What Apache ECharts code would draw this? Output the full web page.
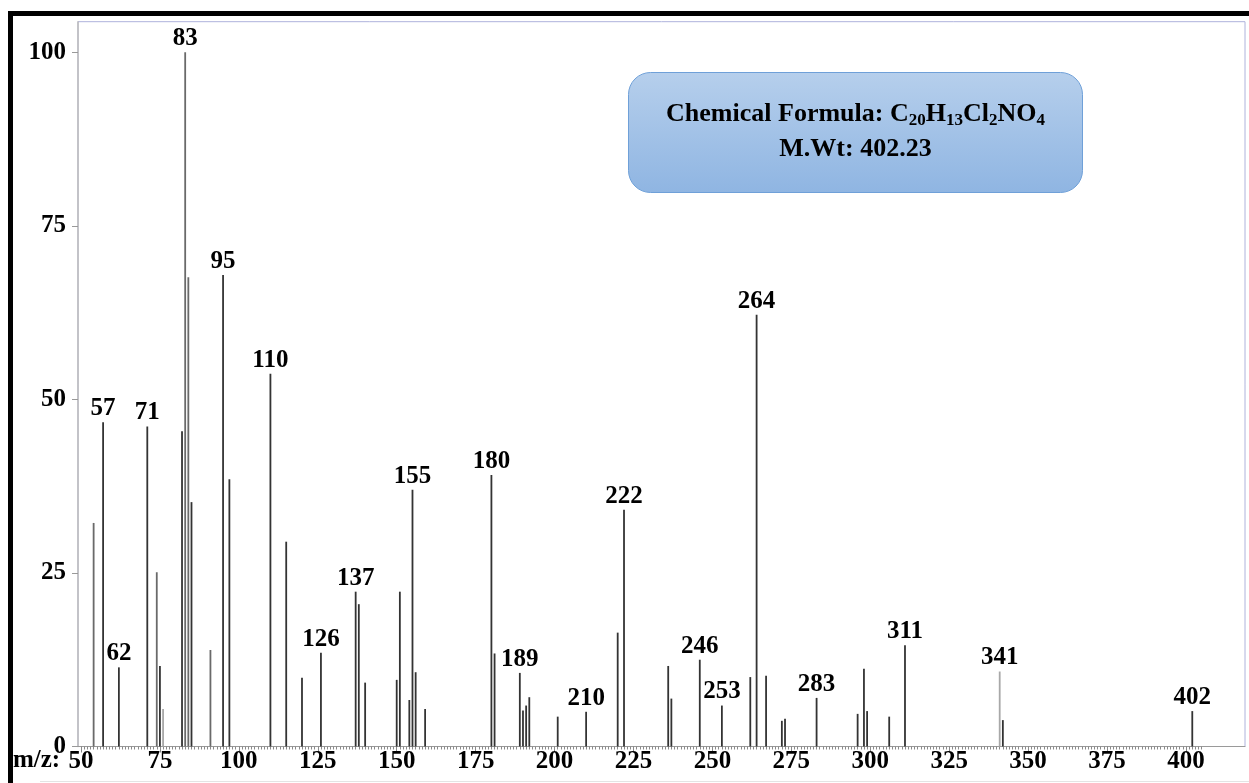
<!DOCTYPE html>
<html><head><meta charset="utf-8">
<script src="https://cdn.jsdelivr.net/npm/echarts@6/dist/echarts.min.js"></script>
<style>html,body{margin:0;padding:0;background:#fff}#c{width:1249px;height:783px}</style>
</head><body><div id="c"></div>
<script>
// m/z values of the peaks
const mz = [54,57,62,71,74,75,76,82,83,84,85,91,95,97,110,115,120,126,137,138,140,150,151,154,155,156,159,180,181,189,190,191,192,201,210,220,222,236,237,246,253,262,264,267,272,273,283,296,298,299,306,311,341,342,402];
// relative intensities (%)
const intensity = [32.2,46.7,11.4,46.1,25.1,11.6,5.4,45.4,100,67.6,35.2,13.9,67.9,38.5,53.7,29.5,9.9,13.5,22.3,20.5,9.2,9.6,22.3,6.7,37.0,10.7,5.4,39.1,13.4,10.6,5.2,5.9,7.1,4.3,5.0,16.4,34.1,11.6,6.9,12.5,5.9,10.0,62.2,10.2,3.7,4.0,7.0,4.7,11.2,5.1,4.3,14.6,10.8,3.8,5.1];
// peaks carrying an m/z label
const labelledPeaks = [57,62,71,83,95,110,126,137,155,180,189,210,222,246,253,264,283,311,341,402];
// axis tick labels
const xTickLabels = [50,75,100,125,150,175,200,225,250,275,300,325,350,375,400];
const yTickLabels = [0,25,50,75,100];
const xAxisName = 'm/z:';
const formulaLine = ['Chemical Formula: C','20','H','13','Cl','2','NO','4'];
const weightLine = 'M.Wt: 402.23';

const lightPeaks = [76, 341];
const midPeaks = [54, 74, 83, 84, 91];
const minorTicks = [];
for (let v = 50; v <= 405; v++) minorTicks.push(v);

const SERIF = "'Liberation Serif','Times New Roman',serif";
const chart = echarts.init(document.getElementById('c'));

const peakData = mz.map((m, i) => [m, intensity[i]]);

let formulaRich = '';
formulaLine.forEach((t, i) => { formulaRich += (i % 2 === 0 ? '{b|' : '{s|') + t + '}'; });

chart.setOption({
  animation: false,
  grid: { left: 78, right: 4, top: 21.7, bottom: 36.5, show: true, borderColor: '#aeb2dc', borderWidth: 1, containLabel: false },
  xAxis: [{
    type: 'value', min: 49.05, max: 418.7,
    axisLine: { onZero: false, lineStyle: { color: '#9a9a9a', width: 1 } },
    axisTick: { customValues: xTickLabels, length: 6, lineStyle: { color: '#888' } },
    axisLabel: { customValues: xTickLabels, margin: 3, color: '#000', fontFamily: SERIF, fontWeight: 'bold', fontSize: 25 },
    splitLine: { show: false }
  }, {
    type: 'value', min: 49.05, max: 418.7, position: 'bottom',
    axisLine: { show: false, onZero: false },
    axisTick: { customValues: minorTicks, length: 3, lineStyle: { color: '#8a8a8a' } },
    axisLabel: { show: false },
    splitLine: { show: false }
  }],
  yAxis: {
    type: 'value', min: 0, max: 104.4,
    axisLine: { show: true, lineStyle: { color: '#bcbcbc', width: 1.5 } },
    axisTick: { show: true, customValues: yTickLabels, length: 6, lineStyle: { color: '#999' } },
    axisLabel: { customValues: yTickLabels, margin: 12, color: '#000', fontFamily: SERIF, fontWeight: 'bold', fontSize: 25 },
    splitLine: { show: false }
  },
  series: [{
    type: 'custom',
    xAxisIndex: 0, yAxisIndex: 0,
    clip: false,
    data: peakData,
    renderItem: function (params, api) {
      const x = api.value(0), y = api.value(1);
      const p0 = api.coord([x, 0]);
      const p1 = api.coord([x, y]);
      let color = '#333333';
      if (lightPeaks.indexOf(x) >= 0) color = '#a8a8a8';
      else if (midPeaks.indexOf(x) >= 0) color = '#6a6a6a';
      const children = [{
        type: 'line',
        shape: { x1: p0[0], y1: p0[1], x2: p1[0], y2: p1[1] },
        style: { stroke: color, lineWidth: 1.8 }
      }];
      if (labelledPeaks.indexOf(x) >= 0) {
        children.push({
          type: 'text',
          x: p1[0], y: p1[1] - 1,
          style: { text: String(x), fill: '#000', font: 'bold 25px ' + SERIF, align: 'center', verticalAlign: 'bottom' }
        });
      }
      return { type: 'group', children: children };
    }
  }],
  graphic: [
    { type: 'rect', left: 8, top: 11, shape: { width: 1241, height: 5 }, style: { fill: '#000' } },
    { type: 'rect', left: 8, top: 11, shape: { width: 5, height: 772 }, style: { fill: '#000' } },
    { type: 'rect', left: 40, top: 781, shape: { width: 1209, height: 1 }, style: { fill: '#e4e4e4' } },
    { type: 'text', left: 13, top: 748, style: { text: xAxisName, fill: '#000', font: 'bold 25px ' + SERIF } },
    {
      type: 'group', left: 628, top: 72,
      children: [
        { type: 'rect', shape: { x: 0, y: 0, width: 454, height: 120, r: 22 },
          style: { fill: { type: 'linear', x: 0, y: 0, x2: 0, y2: 1, colorStops: [{ offset: 0, color: '#b6cfec' }, { offset: 1, color: '#8fb5e2' }] }, stroke: '#6fa0d8', lineWidth: 1 } },
        { type: 'text', x: 227, y: 42, style: {
            text: formulaRich, align: 'center', verticalAlign: 'middle',
            rich: {
              b: { fontFamily: SERIF, fontWeight: 'bold', fontSize: 26, lineHeight: 30, fill: '#000', color: '#000', verticalAlign: 'middle' },
              s: { fontFamily: SERIF, fontWeight: 'bold', fontSize: 17, lineHeight: 17, fill: '#000', color: '#000', verticalAlign: 'bottom' }
            } } },
        { type: 'text', x: 227, y: 77, style: { text: weightLine, align: 'center', verticalAlign: 'middle', fill: '#000', font: 'bold 26px ' + SERIF } }
      ]
    }
  ]
});
</script>
</body></html>
